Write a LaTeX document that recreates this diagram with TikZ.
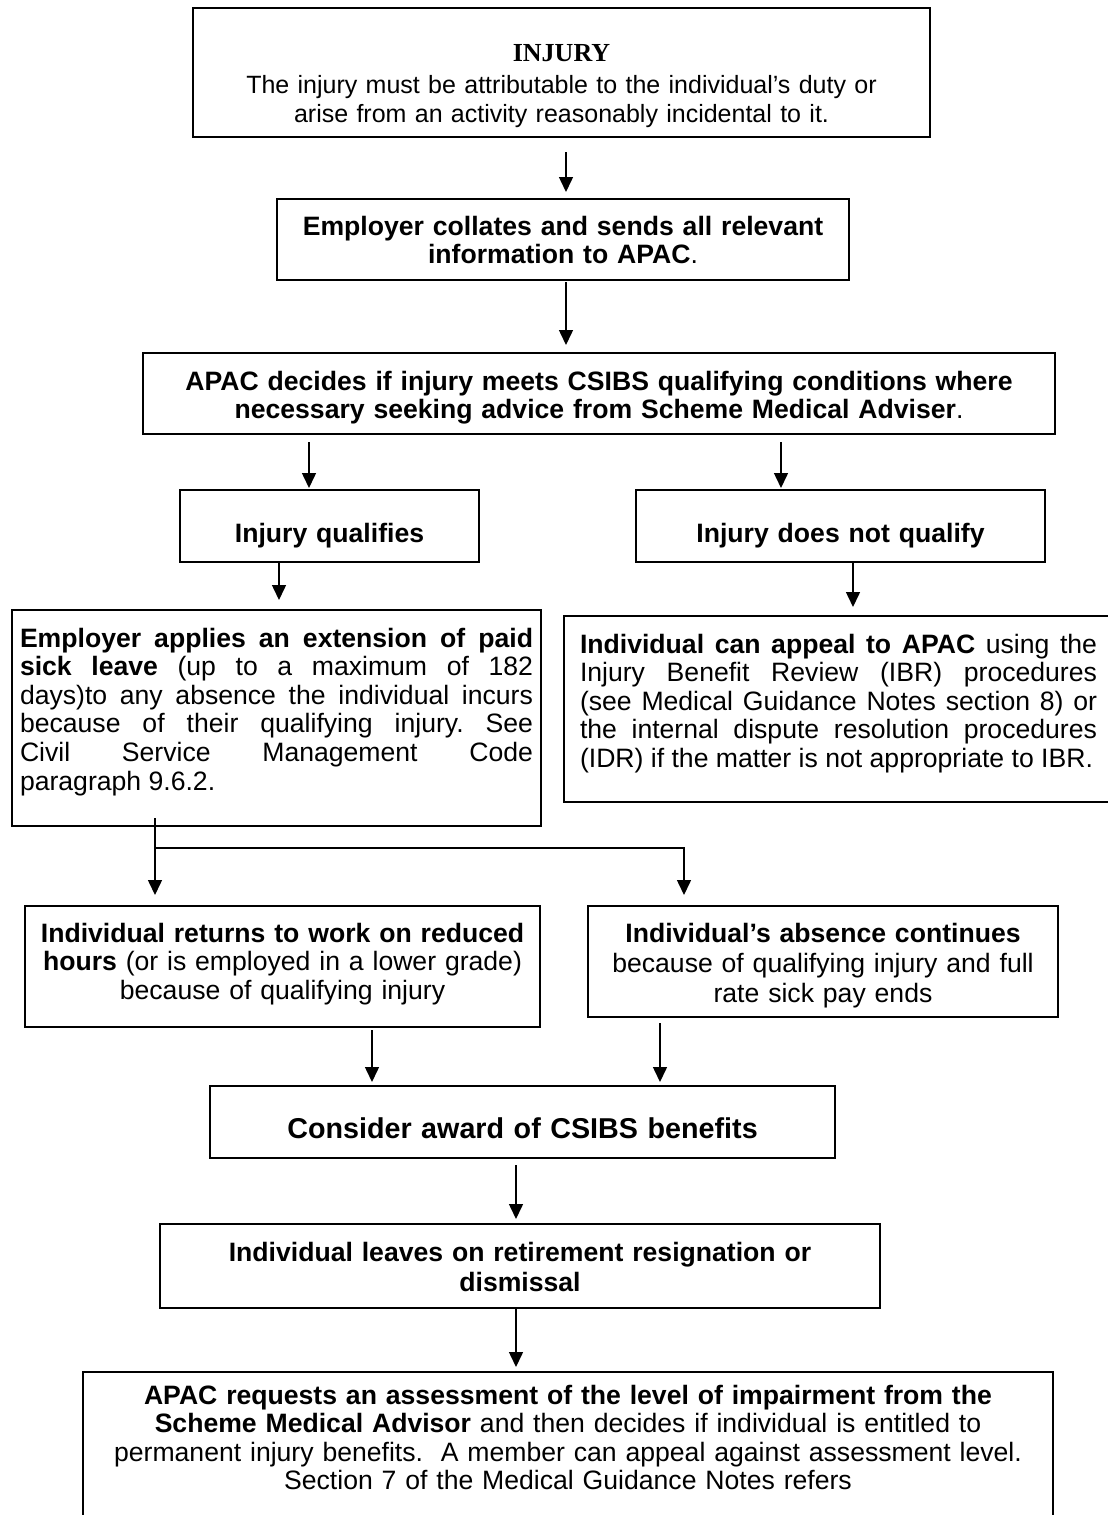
\documentclass[tikz,border=0pt]{standalone}
\usepackage{fontspec}
\setmainfont{Liberation Sans}
\newfontfamily\timesf{Liberation Serif}
\usetikzlibrary{arrows.meta,calc}
\hyphenpenalty=10000
\exhyphenpenalty=10000
\frenchspacing
\newcommand\fsmain{\fontsize{26.6pt}{28.6pt}\selectfont}
\tikzset{
  box/.style={draw, line width=2pt, inner sep=0pt, outer sep=0pt, rectangle},
  txt/.style={inner sep=0pt, outer sep=0pt, anchor=base, font=\fsmain, align=center},
  jtxt/.style={inner sep=0pt, outer sep=0pt, anchor=base, font=\fsmain, align=justify},
  conn/.style={line width=1.5pt},
  arr/.style={line width=1.5pt, -{Triangle[width=14pt,length=15pt]}}
}
\begin{document}
\begin{tikzpicture}[x=1pt,y=-1pt]
\useasboundingbox (0,0) rectangle (1108,1515);
\fill[white] (0,0) rectangle (1108,1515);
\clip (0,0) rectangle (1108,1515);

% boxes
\node[box, minimum width=737pt, minimum height=129pt] (b1) at (561.5,72.5) {};
\node[box, minimum width=572pt, minimum height=81pt] (b2) at (563,239.5) {};
\node[box, minimum width=912pt, minimum height=81pt] (b3) at (599,393.5) {};
\node[box, minimum width=299pt, minimum height=72pt] (b4) at (329.5,526) {};
\node[box, minimum width=409pt, minimum height=72pt] (b5) at (840.5,526) {};
\node[box, minimum width=529pt, minimum height=216pt] (b6) at (276.5,718) {};
\node[box, minimum width=556pt, minimum height=186pt] (b7) at (842,709) {};
\node[box, minimum width=515pt, minimum height=121pt] (b8) at (282.5,966.5) {};
\node[box, minimum width=470pt, minimum height=111pt] (b9) at (823,961.5) {};
\node[box, minimum width=625pt, minimum height=72pt] (b10) at (522.5,1122) {};
\node[box, minimum width=720pt, minimum height=84pt] (b11) at (520,1266) {};
\node[box, minimum width=970pt, minimum height=170pt] (b12) at (568,1457) {};

% texts
\node[txt, text width=725pt, font=\fontsize{25pt}{29pt}\selectfont] (t1) at (561.5,61)
  {{\timesf\bfseries\fontsize{26pt}{30pt}\selectfont INJURY}\\[3pt]
   The injury must be attributable to the individual’s duty or\\
   arise from an activity reasonably incidental to it.};
\node[txt, text width=560pt] (t2) at (563,235)
  {\textbf{Employer collates and sends all relevant}\\
   \textbf{information to APAC}.};
\node[txt, text width=900pt] (t3) at (599,390)
  {\textbf{APAC decides if injury meets CSIBS qualifying conditions where}\\
   \textbf{necessary seeking advice from Scheme Medical Adviser}.};
\node[txt, text width=290pt] (t4) at (329.5,542) {\textbf{Injury qualifies}};
\node[txt, text width=400pt] (t5) at (840.5,542) {\textbf{Injury does not qualify}};
\node[jtxt, text width=513pt] (t6) at (276.5,647)
  {\textbf{Employer applies an extension of paid\linebreak
   sick leave} (up to a maximum of 182\linebreak
   days)to any absence the individual incurs\linebreak
   because of their qualifying injury. See\linebreak
   Civil Service Management Code\linebreak
   paragraph 9.6.2.};
\node[jtxt, text width=517pt] (t7) at (838.5,653)
  {\textbf{Individual can appeal to APAC} using the\linebreak
   Injury Benefit Review (IBR) procedures\linebreak
   (see Medical Guidance Notes section 8) or\linebreak
   the internal dispute resolution procedures\linebreak
   (IDR) if the matter is not appropriate to IBR.};
\node[txt, text width=505pt] (t8) at (282.5,942)
  {\textbf{Individual returns to work on reduced}\\
   \textbf{hours} (or is employed in a lower grade)\\
   because of qualifying injury};
\node[txt, text width=460pt, font=\fontsize{26.6pt}{30pt}\selectfont] (t9) at (823,942)
  {\textbf{Individual’s absence continues}\\
   because of qualifying injury and full\\
   rate sick pay ends};
\node[txt, text width=615pt, font=\fontsize{28.7pt}{32pt}\selectfont] (t10) at (522.5,1138)
  {\textbf{Consider award of CSIBS benefits}};
\node[txt, text width=710pt, font=\fontsize{26.6pt}{30pt}\selectfont] (t11) at (520,1261)
  {\textbf{Individual leaves on retirement resignation or}\\
   \textbf{dismissal}};
\node[txt, text width=960pt] (t12) at (568,1404)
  {\textbf{APAC requests an assessment of the level of impairment from the}\\
   \textbf{Scheme Medical Advisor} and then decides if individual is entitled to\\
   permanent injury benefits.\ \ A member can appeal against assessment level.\\
   Section 7 of the Medical Guidance Notes refers};

% connectors
\draw[arr] ([xshift=4.5pt,yshift=-15pt]b1.south) -- ([xshift=3pt,yshift=7pt]b2.north);
\draw[arr] ([xshift=3pt,yshift=-2pt]b2.south) -- ([xshift=-33pt,yshift=8pt]b3.north);
\draw[arr] ([xshift=-290pt,yshift=-8pt]b3.south) -- ([xshift=-20.5pt,yshift=2pt]b4.north);
\draw[arr] ([xshift=182pt,yshift=-8pt]b3.south) -- ([xshift=-59.5pt,yshift=2pt]b5.north);
\draw[arr] ([xshift=-50.5pt,yshift=0pt]b4.south) -- ([xshift=2.5pt,yshift=10pt]b6.north);
\draw[arr] ([xshift=12.5pt,yshift=0pt]b5.south) -- ([xshift=11pt,yshift=9pt]b7.north);
\coordinate (s6) at ([xshift=-121.5pt,yshift=8pt]b6.south);
\coordinate (j1) at ([xshift=-121.5pt,yshift=-22pt]b6.south);
\draw[arr] (s6) -- ([xshift=-127.5pt,yshift=11pt]b8.north);
\draw[arr] (j1) -| ([xshift=-139pt,yshift=11pt]b9.north);
\draw[arr] ([xshift=89.5pt,yshift=-3pt]b8.south) -- ([xshift=-150.5pt,yshift=4pt]b10.north);
\draw[arr] ([xshift=-163pt,yshift=-6pt]b9.south) -- ([xshift=137.5pt,yshift=4pt]b10.north);
\draw[arr] ([xshift=-6.5pt,yshift=-7pt]b10.south) -- ([xshift=-4pt,yshift=5pt]b11.north);
\draw[arr] ([xshift=-4pt,yshift=0pt]b11.south) -- ([xshift=-52pt,yshift=5pt]b12.north);
\end{tikzpicture}
\end{document}
